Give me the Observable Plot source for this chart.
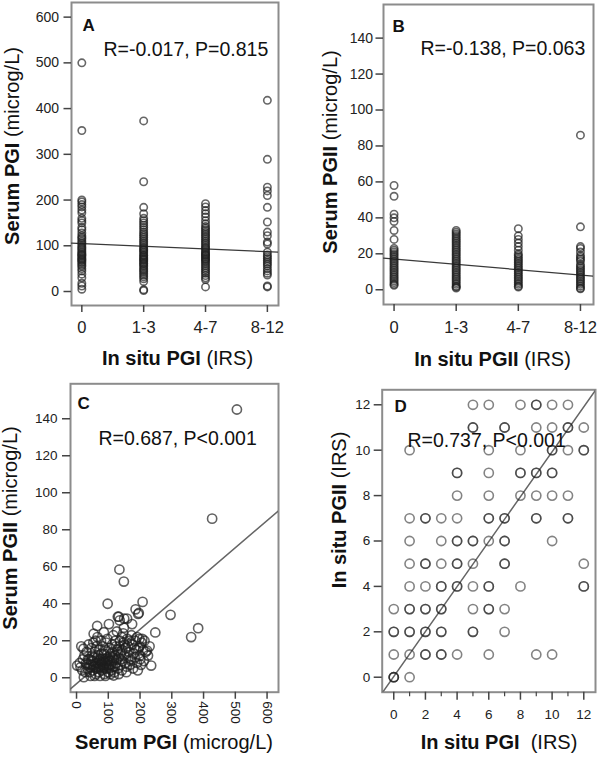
<!DOCTYPE html>
<html><head><meta charset="utf-8">
<script src="https://cdn.jsdelivr.net/npm/d3@7"></script>
<script src="https://cdn.jsdelivr.net/npm/@observablehq/plot@0.6"></script>
<style>
body{margin:0;background:#fff;}
#wrap{position:relative;width:600px;height:757px;overflow:hidden;font-family:"Liberation Sans",Arial,sans-serif;color:#111;}
#wrap svg{position:absolute;}
.ttl{position:absolute;white-space:nowrap;font-size:20px;line-height:1;transform:translate(-50%,-50%);}
.ttl.v{transform:translate(-50%,-50%) rotate(-90deg);}
.ttl b{font-weight:bold;}
</style></head><body><div id="wrap"></div>
<script>
// ---------- data ----------
const catsIRS = ["0", "1-3", "4-7", "8-12"];

// Panel A: serum PGI (microg/L) by in-situ PGI IRS group
const aPGI_0   = [500,352,200,196,190,185,178,172,160,155,150,140,135,128,122,118,115,110,106,102,98,95,92,88,85,82,80,78,75,72,70,68,65,62,58,55,50,45,38,30,18,12,5];
const aPGI_13  = [373,240,184,170,160,155,150,145,140,135,130,126,122,118,114,110,106,102,98,95,92,90,87,84,80,78,75,72,70,68,65,62,60,57,54,50,47,44,40,36,32,28,22,4,2];
const aPGI_47  = [192,185,177,170,163,155,148,142,138,134,130,126,122,118,114,110,106,102,98,95,92,88,85,82,80,78,75,72,70,67,64,60,56,52,48,44,40,35,30,26,10];
const aPGI_812 = [418,289,228,220,210,184,152,130,122,108,104,86,80,76,72,68,64,60,56,50,45,40,36,12,10];

// Panel B: serum PGII (microg/L) by in-situ PGII IRS group
const bPGII_0   = [58,52,42,40,38,33,28,23,22,21,20,19,18,17,16,15,14,13,12,11,10,9,8,7,6,5,4,3,2.5];
const bPGII_13  = [33,32,31,30,29,28,27,26,25,24,23,22,21,20,19,18,17,16,15,14,13,12,11,10,9,8,7,6,5,4,3,2,1.5,1];
const bPGII_47  = [34,30,28,26,24,22,20,19,18,17,16,15,14,13,12,11,10,9,8,7,6,5,4,3,2,1.5];
const bPGII_812 = [86,35,24,23,21,19,18,17,16,14,13,12,11,10,9,8,7,6,5,4,3,2,1,0.5];

// Panel C: serum PGI vs serum PGII
const cPGI  = [505,427,135,149,98,208,186,194,296,130,150,102,248,383,361,65,15,22,235,218,133,136,159,175,196,207,191,149,86,54,60,12.6,2,23,117,201,222,
  30,35,40,42,45,48,50,52,55,58,60,62,65,68,70,72,75,78,80,82,85,88,90,92,95,98,100,102,105,108,110,112,115,118,120,122,125,128,130,132,135,138,140,142,145,148,150,155,158,160,165,170,175,180,185,190,195,200,205,210,
  25,28,32,38,44,47,53,57,63,66,71,74,77,83,87,91,93,97,103,107,113,116,119,124,127,133,137,143,147,153,157,163,168,173,178,183,188,193,198,203,
  10,18,20,33,36,41,46,51,56,61,64,67,69,73,76,79,81,84,86,89,94,96,99,101,104,106,109,111,114,121,126,131,139,144,152,162,167,172,182,199,214,225,230,212];
const cPGII = [145,86,58.5,52,40,41,37,34.5,34,33,32,29,24.5,26.8,22,28,17,15.7,6.6,14,33,31,32,29,35,21,22,27,24.6,23.8,20,5.7,6.6,0.3,1.2,10,14.7,
  8,5,10,3,7,12,4,9,6,14,2,8,11,5,3,9,7,13,4,10,6,2,8,15,5,11,3,7,9,13,4,18,6,10,12,20,8,15,5,11,17,7,13,22,9,19,12,16,6,21,14,10,18,13,20,8,16,12,19,15,
  12,3,14,18,1,16,19,1,17,22,15,1,20,17,13,1,19,21,16,2,14,23,3,17,25,2,20,4,24,8,3,11,7,23,5,11,15,4,21,7,
  8,4,10,7,10,6,9,7,11,5,6,8,12,6,10,8,7,9,5,10,7,9,6,10,5,12,7,9,11,6,10,14,10,15,18,17,20,9,16,17,20,12,17,9];

// Panel D: in-situ PGI IRS vs in-situ PGII IRS (n = overlapping cases)
const dPGI   = [5,6,8,9,10,11, 5,7,9,10,11,12, 1,6,8,10,11,12, 4,6,8,9,10, 4,6,8,9,10,11, 1,2,3,4,6,7,9,11, 1,3,4,5,6,7,10, 1,2,3,4,5,7,12, 1,2,3,4,5,6,8,12, 0,1,2,3,5,6,7, 0,1,2,3,5,7, 0,1,2,3,4,6,9,10, 0,1];
const dPGII  = [12,12,12,12,12,12, 11,11,11,11,11,11, 10,10,10,10,10,10, 9,9,9,9,9, 8,8,8,8,8,8, 7,7,7,7,7,7,7,7, 6,6,6,6,6,6,6, 5,5,5,5,5,5,5, 4,4,4,4,4,4,4,4, 3,3,3,3,3,3,3, 2,2,2,2,2,2, 1,1,1,1,1,1,1,1, 0,0];
const dCount = [1,1,1,2,1,1, 2,2,1,1,2,1, 1,1,1,2,1,2, 2,1,2,2,2, 1,1,1,1,1,1, 1,2,1,1,2,2,2,2, 1,1,2,2,1,2,1, 1,2,1,2,1,2,1, 1,1,2,2,1,2,1,2, 1,2,2,2,1,2,1, 2,2,2,2,2,1, 1,1,2,2,1,1,1,1, 3,1];

// regression fits [intercept, slope] and statistics
const fitA = [105, -6.0];
const fitB = [17.1, -2.96];
const fitC = [-3.2, 0.147];
const fitD = [0.03, 0.99];
const statA = "R=-0.017, P=0.815";
const statB = "R=-0.138, P=0.063";
const statC = "R=0.687, P<0.001";
const statD = "R=0.737, P<0.001";

// ---------- drawing ----------
const FONT = '"Liberation Sans", Arial, sans-serif';
const wrap = document.getElementById("wrap");

function fitLine(fit, dom) {
  return dom.map(x => ({x, y: fit[0] + fit[1] * x}));
}
function groupRows(groups) {
  const rows = [];
  groups.forEach((vals, i) => vals.forEach(v => rows.push({x: i, y: v})));
  return rows;
}
function tickRows(values, y0, len) {
  return values.map(v => ({x: v, y1: y0, y2: y0 - len}));
}

function panel(cfg) {
  const xDom = cfg.xDomain;
  const marks = [
    Plot.frame({stroke: "#8c8c8c", strokeWidth: 2}),
    Plot.axisY({ticks: cfg.yTicks, tickSize: cfg.yTickSize, tickPadding: cfg.yTickPadding, fontSize: cfg.yFont, label: null, stroke: "#444", strokeWidth: 1.5})
  ];
  if (cfg.xRotate) {
    // tick marks below the frame, labels drawn as rotated text
    marks.push(Plot.ruleX(tickRows(cfg.xTicks, cfg.yDomain[0], cfg.xTickLen), {x: "x", y1: "y1", y2: "y2", stroke: "#444", strokeWidth: 1.5}));
    marks.push(Plot.text(cfg.xTicks, {x: d => d, frameAnchor: "bottom", dy: cfg.xTickSize + cfg.xTickPadding, rotate: 90, textAnchor: "start", lineAnchor: "middle", fontSize: cfg.xFont, fill: "#1a1a1a"}));
  } else {
    marks.push(Plot.axisX({ticks: cfg.xTicks, tickFormat: cfg.xFormat, tickSize: cfg.xTickSize, tickPadding: cfg.xTickPadding, fontSize: cfg.xFont, label: null, stroke: "#444", strokeWidth: 1.5}));
  }
  if (cfg.minorX) marks.push(Plot.ruleX(tickRows(cfg.minorX, cfg.yDomain[0], cfg.minorLen), {x: "x", y1: "y1", y2: "y2", stroke: "#444", strokeWidth: 1.2}));
  marks.push(Plot.line(fitLine(cfg.fit, xDom), {x: "x", y: "y", stroke: cfg.lineColor, strokeWidth: cfg.lineWidth, clip: true}));
  marks.push(Plot.dot(cfg.rows, {x: "x", y: "y", r: cfg.r, fill: "none", stroke: "#1e1e1e", strokeOpacity: cfg.op, strokeWidth: 1.6}));
  marks.push(Plot.text([cfg.letter], {frameAnchor: "top-left", dx: cfg.letterDx, dy: cfg.letterDy, textAnchor: "start", lineAnchor: "bottom", fontSize: 17, fontWeight: "bold", fill: "#111"}));
  marks.push(Plot.text([cfg.stat], {frameAnchor: "top-left", dx: cfg.statDx, dy: cfg.statDy, textAnchor: "start", lineAnchor: "bottom", fontSize: 19.5, fill: "#111"}));
  const svg = Plot.plot({
    width: cfg.width, height: cfg.height,
    marginLeft: cfg.ml, marginRight: cfg.mr, marginTop: cfg.mt, marginBottom: cfg.mb,
    style: {fontFamily: FONT, fontSize: "14px", color: "#222", background: "transparent", overflow: "visible"},
    x: {domain: xDom, axis: null}, y: {domain: cfg.yDomain, axis: null},
    marks
  });
  svg.style.left = cfg.left + "px";
  svg.style.top = cfg.top + "px";
  wrap.appendChild(svg);
}

function title(html, cx, cy, vertical) {
  const d = document.createElement("div");
  d.className = "ttl" + (vertical ? " v" : "");
  d.innerHTML = html;
  d.style.left = cx + "px";
  d.style.top = cy + "px";
  wrap.appendChild(d);
}

// Panel A
panel({
  left: 0, top: 0, width: 300, height: 345, ml: 71, mr: 22, mt: 2, mb: 40,
  xDomain: [-0.167, 3.18], yDomain: [-30.6, 632],
  yTicks: [0, 100, 200, 300, 400, 500, 600], yTickSize: 7.5, yTickPadding: 5, yFont: 14,
  xTicks: [0, 1, 2, 3], xFormat: i => catsIRS[i], xTickSize: 7, xTickPadding: 9, xFont: 16.5,
  fit: fitA, lineColor: "#3a3a3a", lineWidth: 1.2,
  rows: groupRows([aPGI_0, aPGI_13, aPGI_47, aPGI_812]), r: 3.7, op: 0.68,
  letter: "A", letterDx: 11, letterDy: 28.7, stat: statA, statDx: 32, statDy: 53.5
});
// Panel B
panel({
  left: 300, top: 0, width: 300, height: 345, ml: 83, mr: 7, mt: 4, mb: 41,
  xDomain: [-0.17, 3.21], yDomain: [-8.2, 158.7],
  yTicks: [0, 20, 40, 60, 80, 100, 120, 140], yTickSize: 7.5, yTickPadding: 3, yFont: 14,
  xTicks: [0, 1, 2, 3], xFormat: i => catsIRS[i], xTickSize: 7, xTickPadding: 10, xFont: 16.5,
  fit: fitB, lineColor: "#3a3a3a", lineWidth: 1.2,
  rows: groupRows([bPGII_0, bPGII_13, bPGII_47, bPGII_812]), r: 3.7, op: 0.68,
  letter: "B", letterDx: 9, letterDy: 27.7, stat: statB, statDx: 37, statDy: 50
});
// Panel C
panel({
  left: 0, top: 370, width: 300, height: 360, ml: 70, mr: 22, mt: 13.3, mb: 38.3,
  xDomain: [-19, 636], yDomain: [-7.8, 158.9],
  yTicks: [0, 20, 40, 60, 80, 100, 120, 140], yTickSize: 8, yTickPadding: 5, yFont: 13.5,
  xTicks: [0, 100, 200, 300, 400, 500, 600], xTickSize: 7, xTickLen: 3.8, xTickPadding: 2, xFont: 13.5, xRotate: true,
  fit: fitC, lineColor: "#666", lineWidth: 1.5,
  rows: cPGI.map((v, i) => ({x: v, y: cPGII[i]})), r: 4.6, op: 0.7,
  letter: "C", letterDx: 7, letterDy: 25.5, stat: statC, statDx: 28, statDy: 61.5
});
// Panel D
const dRows = [];
dPGI.forEach((v, i) => { for (let k = 0; k < dCount[i]; k++) dRows.push({x: v, y: dPGII[i]}); });
panel({
  left: 300, top: 370, width: 300, height: 360, ml: 81.7, mr: 5, mt: 19.3, mb: 38.3,
  xDomain: [-0.73, 12.74], yDomain: [-0.66, 12.66],
  yTicks: [0, 2, 4, 6, 8, 10, 12], yTickSize: 8, yTickPadding: 4, yFont: 13.5,
  xTicks: [0, 2, 4, 6, 8, 10, 12], xFormat: d => d, xTickSize: 8, xTickPadding: 9, xFont: 13.5,
  minorX: [1, 3, 5, 7, 9, 11], minorLen: 0.2,
  fit: fitD, lineColor: "#666", lineWidth: 1.5,
  rows: dRows, r: 4.6, op: 0.55,
  letter: "D", letterDx: 12.3, letterDy: 22.4, stat: statD, statDx: 25.3, statDy: 57
});

// axis titles
title("<b>Serum PGI</b> (microg/L)", 12, 146, true);
title("<b>In situ PGI</b> (IRS)", 177.5, 358, false);
title("<b>Serum PGII</b> (microg/L)", 330, 152, true);
title("<b>In situ PGII</b> (IRS)", 492.5, 359, false);
title("<b>Serum PGII</b> (microg/L)", 10, 527.5, true);
title("<b>Serum PGI</b> (microg/L)", 174, 742, false);
title("<b>In situ PGII</b> (IRS)", 339, 509.5, true);
title("<b>In situ PGI</b>&nbsp; (IRS)", 499, 741.5, false);
</script>
</body></html>
